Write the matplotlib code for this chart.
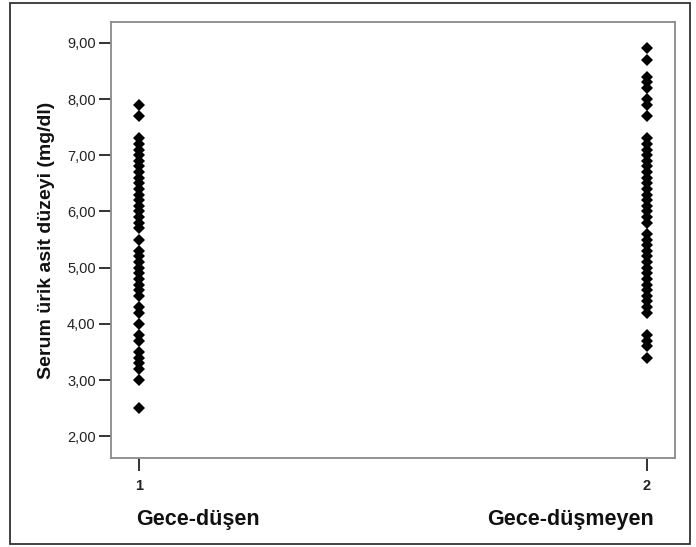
import matplotlib
matplotlib.use("Agg")
import matplotlib.pyplot as plt
from matplotlib.patches import Rectangle
from matplotlib.ticker import FixedLocator, FuncFormatter

plt.rcParams['font.family'] = ['Liberation Sans', 'DejaVu Sans']

# Data (mg/dl)
group_positions = [1, 2]
group_names = ["Gece-düşen", "Gece-düşmeyen"]
gece_dusen = [7.9, 7.7, 7.3, 7.2, 7.1, 7.0, 6.9, 6.8, 6.7, 6.6, 6.5, 6.4, 6.3,
              6.2, 6.1, 6.0, 5.9, 5.8, 5.7, 5.5, 5.3, 5.2, 5.1, 5.0, 4.9, 4.8,
              4.7, 4.6, 4.5, 4.3, 4.2, 4.0, 3.8, 3.7, 3.5, 3.4, 3.3, 3.2, 3.0,
              2.5]
gece_dusmeyen = [8.9, 8.7, 8.4, 8.3, 8.2, 8.0, 7.9, 7.7, 7.3, 7.2, 7.1, 7.0,
                 6.9, 6.8, 6.7, 6.6, 6.5, 6.4, 6.3, 6.2, 6.1, 6.0, 5.9, 5.8,
                 5.6, 5.5, 5.4, 5.3, 5.2, 5.1, 5.0, 4.9, 4.8, 4.7, 4.6, 4.5,
                 4.4, 4.3, 4.2, 3.8, 3.7, 3.6, 3.4]
y_ticks = [2, 3, 4, 5, 6, 7, 8, 9]
y_label = "Serum ürik asit düzeyi (mg/dl)"

W, H = 696, 547
fig = plt.figure(figsize=(W / 100, H / 100), dpi=100)
ax = fig.add_axes([111 / W, 1 - 458 / H, (675 - 111) / W, (458 - 22) / H])

for pos, vals in zip(group_positions, [gece_dusen, gece_dusmeyen]):
    ax.plot([pos] * len(vals), vals, linestyle='none', marker='D',
            markersize=6.2, color='black', markeredgewidth=0)

ax.set_xlim(0.945, 2.055)
ax.set_ylim(1.614, 9.37)
ax.yaxis.set_major_locator(FixedLocator(y_ticks))
ax.yaxis.set_major_formatter(FuncFormatter(lambda v, p: f"{v:.2f}".replace('.', ',')))
ax.xaxis.set_major_locator(FixedLocator(group_positions))
ax.set_xticklabels([str(p) for p in group_positions], fontweight='bold')

for s in ax.spines.values():
    s.set_color('#8a8a8a')
    s.set_linewidth(1.3)

ax.tick_params(axis='y', direction='out', length=9, width=1.3, color='#222222',
               labelsize=10.5, labelcolor='#222222', pad=2)
ax.tick_params(axis='x', direction='out', length=9, width=1.3, color='#222222',
               labelsize=10.5, labelcolor='#222222', pad=6)

ax.set_ylabel(y_label, fontsize=14, fontweight='bold', labelpad=9, color='#111111')

# category labels under the ticks
ax.text(group_positions[0] - 0.006, -0.14, group_names[0], transform=ax.get_xaxis_transform(),
        ha='left', va='center', fontsize=15.5, fontweight='bold', color='#111111')
ax.text(group_positions[1] + 0.013, -0.14, group_names[1], transform=ax.get_xaxis_transform(),
        ha='right', va='center', fontsize=15.5, fontweight='bold', color='#111111')

# outer frame
fig.patches.append(Rectangle((10 / W, 3 / H), (690 - 10) / W, (544 - 3) / H,
                             transform=fig.transFigure, fill=False,
                             edgecolor='#333333', linewidth=1.3))

fig.savefig("out.png", dpi=100)
